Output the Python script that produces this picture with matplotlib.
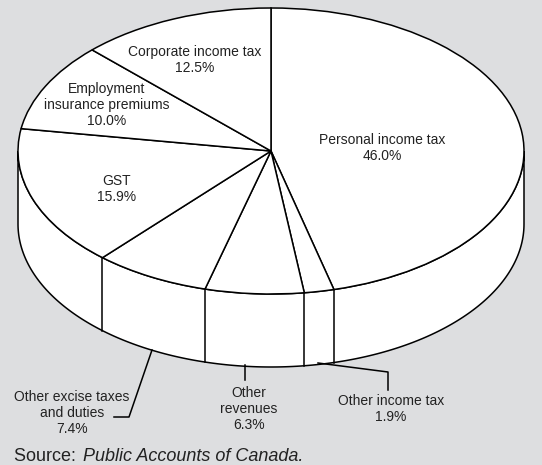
import numpy as np
import matplotlib.pyplot as plt
from matplotlib.transforms import Affine2D
from matplotlib.patches import Polygon

# Data: federal revenue shares (%), clockwise from 12 o'clock
categories = ['Personal income tax', 'Other income tax', 'Other revenues',
              'Other excise taxes and duties', 'GST',
              'Employment insurance premiums', 'Corporate income tax']
shares = [46.0, 1.9, 6.3, 7.4, 15.9, 10.0, 12.5]

plt.rcParams['font.family'] = ['Liberation Sans', 'DejaVu Sans']

W, H = 542, 465
fig = plt.figure(figsize=(W / 100, H / 100), dpi=100, facecolor='#dddee0')
ax = fig.add_axes([0, 0, 1, 1])
ax.set_facecolor('#dddee0')

# ellipse geometry in pixel units (y grows downward)
CX, CY, A, B, D = 271, 151, 253, 143, 73
LW = 1.1

# top face: ordinary pie squashed into an ellipse
wedges, _ = ax.pie(shares, startangle=90, counterclock=False, radius=1,
                   wedgeprops=dict(facecolor='white', edgecolor='black',
                                   linewidth=LW, zorder=2))
squash = Affine2D().scale(A, -B).translate(CX, CY) + ax.transData
for w in wedges:
    w.set_transform(squash)

# side wall along the front half
phi = np.radians(np.linspace(180, 360, 200))
top = np.column_stack([CX + A * np.cos(phi), CY - B * np.sin(phi)])
bot = np.column_stack([CX + A * np.cos(phi[::-1]), CY - B * np.sin(phi[::-1]) + D])
ax.add_patch(Polygon(np.vstack([top, bot]), closed=True, facecolor='white',
                     edgecolor='black', linewidth=LW, zorder=1))

# vertical edges where slice boundaries meet the wall
bounds = 90 - 3.6 * np.cumsum(shares)
for ang in bounds:
    a = np.radians(ang % 360)
    if np.sin(a) < 0:
        x = CX + A * np.cos(a)
        y = CY - B * np.sin(a)
        ax.plot([x, x], [y, y + D], color='black', lw=LW, zorder=3)

# labels on the top face
tc = '#222222'
fs = 10
ls = 1.15
ax.text(382, 148, 'Personal income tax\n46.0%', ha='center', va='center',
        fontsize=fs, color=tc, linespacing=ls, zorder=4)
ax.text(195, 60, 'Corporate income tax\n12.5%', ha='center', va='center',
        fontsize=fs, color=tc, linespacing=ls, zorder=4)
ax.text(107, 105, 'Employment\ninsurance premiums\n10.0%', ha='center', va='center',
        fontsize=fs, color=tc, linespacing=ls, zorder=4)
ax.text(117, 189, 'GST\n15.9%', ha='center', va='center',
        fontsize=fs, color=tc, linespacing=ls, zorder=4)

# outside labels with leader lines
ax.plot([152, 129, 114], [350, 417, 417], color='black', lw=LW)
ax.text(72, 413, 'Other excise taxes\nand duties\n7.4%', ha='center', va='center',
        fontsize=fs, color=tc, linespacing=ls)
ax.plot([245, 245], [365, 380], color='black', lw=LW)
ax.text(249, 409, 'Other\nrevenues\n6.3%', ha='center', va='center',
        fontsize=fs, color=tc, linespacing=ls)
ax.plot([318, 388, 388], [363, 372, 390], color='black', lw=LW)
ax.text(391, 409, 'Other income tax\n1.9%', ha='center', va='center',
        fontsize=fs, color=tc, linespacing=ls)

# source line
ax.text(14, 456, 'Source: ', ha='left', va='center', fontsize=13, color=tc)
ax.text(83, 456, 'Public Accounts of Canada.', ha='left', va='center',
        fontsize=13, color=tc, style='italic')

ax.set_xlim(0, W)
ax.set_ylim(H, 0)
ax.set_aspect('auto')
ax.axis('off')

fig.savefig('out.png', dpi=100, facecolor=fig.get_facecolor())
